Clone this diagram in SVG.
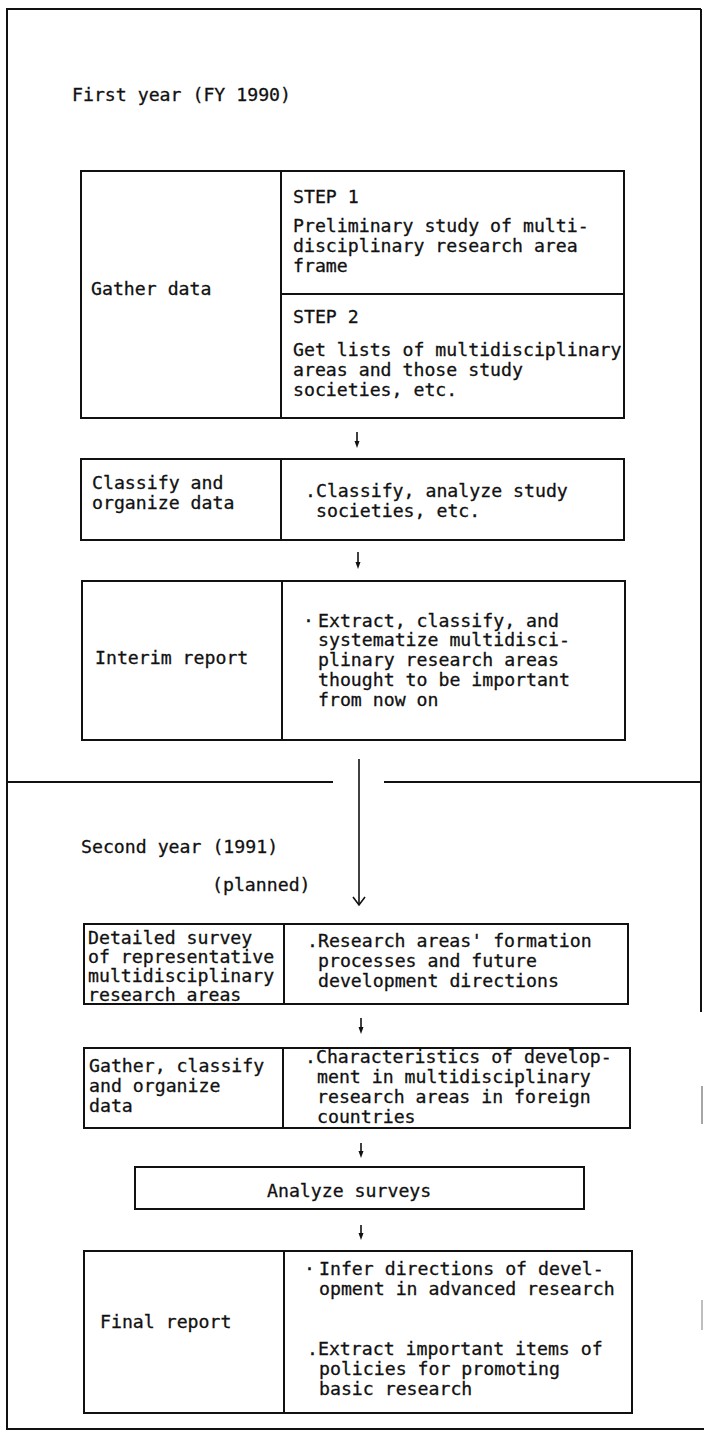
<svg xmlns="http://www.w3.org/2000/svg" width="704" height="1434" viewBox="0 0 704 1434">
<defs>
<style>
.t{font-family:"DejaVu Sans Mono","Liberation Mono",monospace;font-size:18.2px;fill:#111;stroke:#111;stroke-width:0.3}
.b{fill:#fff;stroke:#111;stroke-width:2}
.l{stroke:#111;stroke-width:2;fill:none}
.c{stroke:#111;stroke-width:1.6;fill:none}
.h{fill:#111}
</style>
</defs>
<rect width="704" height="1434" fill="#fff"/>
<g id="frame">
<path class="l" d="M701,9 L7,9 L7,1429 L704,1429"/>
<path class="l" d="M701,9 L701,1012"/>
<path d="M702,1086 L702,1124" stroke="#888" stroke-width="1.5"/>
<path d="M702,1300 L702,1330" stroke="#aaa" stroke-width="1.5"/>
<path class="l" d="M7,782 L333,782 M384,782 L701,782"/>
</g>
<g id="labels">
<text class="t" x="72" y="101">First year (FY 1990)</text>
<text class="t" x="81" y="853">Second year (1991)</text>
<text class="t" x="212" y="891">(planned)</text>
</g>
<g id="n1">
<rect class="b" x="81" y="171" width="543" height="247"/>
<path class="l" d="M281,171 L281,418 M281,294 L624,294"/>
<text class="t" x="91" y="295">Gather data</text>
<text class="t" x="293" y="203">STEP 1</text>
<text class="t" x="293" y="232">Preliminary study of multi-</text>
<text class="t" x="293" y="252">disciplinary research area</text>
<text class="t" x="293" y="272">frame</text>
<text class="t" x="293" y="323">STEP 2</text>
<text class="t" x="293" y="356">Get lists of multidisciplinary</text>
<text class="t" x="293" y="376">areas and those study</text>
<text class="t" x="293" y="396">societies, etc.</text>
</g>
<g id="n2">
<rect class="b" x="81" y="459" width="543" height="81"/>
<path class="l" d="M281,459 L281,540"/>
<text class="t" x="92" y="489">Classify and</text>
<text class="t" x="92" y="509">organize data</text>
<text class="t" x="305" y="497">.Classify, analyze study</text>
<text class="t" x="316" y="517">societies, etc.</text>
</g>
<g id="n3">
<rect class="b" x="82" y="581" width="543" height="159"/>
<path class="l" d="M282,581 L282,740"/>
<text class="t" x="95" y="664">Interim report</text>
<text class="t" x="303" y="627">·</text>
<text class="t" x="318" y="627">Extract, classify, and</text>
<text class="t" x="318" y="646">systematize multidisci-</text>
<text class="t" x="318" y="666">plinary research areas</text>
<text class="t" x="318" y="686">thought to be important</text>
<text class="t" x="318" y="706">from now on</text>
</g>
<g id="n4">
<rect class="b" x="84" y="924" width="544" height="80"/>
<path class="l" d="M284,924 L284,1004"/>
<text class="t" x="88" y="944">Detailed survey</text>
<text class="t" x="88" y="963">of representative</text>
<text class="t" x="88" y="982">multidisciplinary</text>
<text class="t" x="88" y="1001">research areas</text>
<text class="t" x="307" y="947">.Research areas' formation</text>
<text class="t" x="318" y="967">processes and future</text>
<text class="t" x="318" y="987">development directions</text>
</g>
<g id="n5">
<rect class="b" x="84" y="1048" width="546" height="80"/>
<path class="l" d="M283,1048 L283,1128"/>
<text class="t" x="89" y="1072">Gather, classify</text>
<text class="t" x="89" y="1092">and organize</text>
<text class="t" x="89" y="1112">data</text>
<text class="t" x="305" y="1063">.Characteristics of develop-</text>
<text class="t" x="317" y="1083">ment in multidisciplinary</text>
<text class="t" x="317" y="1103">research areas in foreign</text>
<text class="t" x="317" y="1123">countries</text>
</g>
<g id="n6">
<rect class="b" x="135" y="1167" width="449" height="42"/>
<text class="t" x="267" y="1197">Analyze surveys</text>
</g>
<g id="n7">
<rect class="b" x="84" y="1251" width="548" height="162"/>
<path class="l" d="M284,1251 L284,1413"/>
<text class="t" x="100" y="1328">Final report</text>
<text class="t" x="304" y="1275">·</text>
<text class="t" x="319" y="1275">Infer directions of devel-</text>
<text class="t" x="319" y="1295">opment in advanced research</text>
<text class="t" x="307" y="1355">.Extract important items of</text>
<text class="t" x="319" y="1375">policies for promoting</text>
<text class="t" x="319" y="1395">basic research</text>
</g>
<g id="connectors">
<path class="c" d="M357,432 L357,442"/>
<path class="h" d="M354.5,441 L359.5,441 L357,448 Z"/>
<path class="c" d="M358,552 L358,563"/>
<path class="h" d="M355.5,562 L360.5,562 L358,569 Z"/>
<path class="c" d="M359,759 L359,904"/>
<path class="c" d="M353,897 L359,905 L365,897"/>
<path class="c" d="M361,1018 L361,1028"/>
<path class="h" d="M358.5,1027 L363.5,1027 L361,1034 Z"/>
<path class="c" d="M361,1143 L361,1152"/>
<path class="h" d="M358.5,1151 L363.5,1151 L361,1158 Z"/>
<path class="c" d="M361,1225 L361,1234"/>
<path class="h" d="M358.5,1233 L363.5,1233 L361,1240 Z"/>
</g>
</svg>
